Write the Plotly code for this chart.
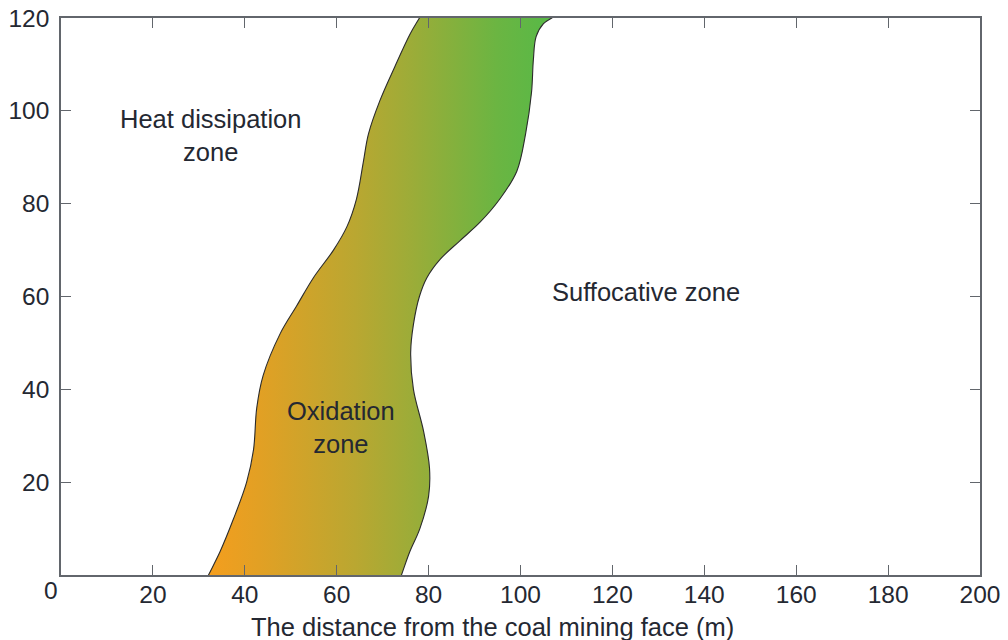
import plotly.graph_objects as go

# Boundary of the oxidation zone
left_y = [0, 5, 12, 20, 27, 36, 43, 52, 58, 64, 70, 75, 81, 89, 95, 102.2, 109.4, 116.6, 120]
left_x = [32.1, 34.6, 37.5, 40.4, 41.9, 42.6, 44.0, 47.7, 51.3, 54.9, 59.3, 62.2, 64.3, 65.8, 66.9, 69.4, 72.6, 76.0, 78.0]
right_y = [0, 5, 10, 17, 23, 31, 40, 48, 54, 60, 64, 68, 72, 76, 81, 87, 95, 104, 111, 116, 118.8, 120]
right_x = [74.1, 75.9, 78.1, 80.0, 80.2, 78.9, 76.7, 76.1, 76.7, 78.0, 79.6, 82.5, 86.8, 91.2, 95.5, 99.2, 101.1, 102.4, 102.8, 103.4, 105.0, 106.8]

x_ticks = [0, 20, 40, 60, 80, 100, 120, 140, 160, 180, 200]
y_ticks = [0, 20, 40, 60, 80, 100, 120]

zone_labels = ["Heat dissipation<br>zone", "Suffocative zone", "Oxidation<br>zone"]
zone_label_x = [32.6, 127.3, 61.0]
zone_label_y = [94.6, 60.9, 31.7]

gradient = [[0.0, "#F49E1E"], [0.147, "#E2A024"], [0.427, "#BAA731"],
            [0.587, "#9DAC38"], [0.84, "#6BB542"], [1.0, "#57B947"]]


def reflect(p_end, p_prev):
    return 2 * p_end - p_prev


# polygon: left edge upward, right edge downward, closed outside the visible range
lx_b = reflect(left_x[0], left_x[1]); ly_b = reflect(left_y[0], left_y[1])
lx_t = reflect(left_x[-1], left_x[-2]); ly_t = reflect(left_y[-1], left_y[-2])
rx_b = reflect(right_x[0], right_x[1]); ry_b = reflect(right_y[0], right_y[1])
rx_t = reflect(right_x[-1], right_x[-2]); ry_t = reflect(right_y[-1], right_y[-2])

poly_x = [lx_b] + left_x + [lx_t, rx_t] + right_x[::-1] + [rx_b]
poly_y = [ly_b] + left_y + [ly_t, ry_t] + right_y[::-1] + [ry_b]

fig = go.Figure()
fig.add_trace(go.Scatter(
    x=poly_x, y=poly_y, mode="lines", fill="toself",
    line=dict(color="#2b2b2b", width=1.1, shape="spline", smoothing=1),
    fillgradient=dict(type="horizontal", colorscale=gradient,
                      start=min(left_x), stop=max(right_x)),
    hoverinfo="skip", showlegend=False,
))

font_color = "#242832"
for t, x, y in zip(zone_labels, zone_label_x, zone_label_y):
    fig.add_annotation(x=x, y=y, text=t, showarrow=False,
                       font=dict(size=25.5, color=font_color, family="Arial"))

fig.add_annotation(xref="paper", yref="paper", x=0.469, y=-0.094,
                   text="The distance from the coal mining face (m)",
                   showarrow=False, yanchor="middle",
                   font=dict(size=25.5, color=font_color, family="Arial"))
fig.add_annotation(xref="paper", yref="paper", x=-0.021, y=-0.028,
                   text="0", showarrow=False, yanchor="middle",
                   font=dict(size=24.5, color=font_color, family="Arial"))

axis_color = "#62666c"
common = dict(showline=True, linecolor=axis_color, linewidth=1.5, mirror="ticks",
              ticks="inside", ticklen=10, tickwidth=1.4, tickcolor=axis_color,
              showgrid=False, zeroline=False, automargin=False,
              tickfont=dict(size=24.5, color=font_color, family="Arial"))

fig.update_xaxes(range=[0, 200], tickvals=x_ticks,
                 ticktext=[""] + [str(v) for v in x_ticks[1:]],
                 ticklabelstandoff=-3, **common)
fig.update_yaxes(range=[0, 120], tickvals=y_ticks,
                 ticktext=[""] + [str(v) for v in y_ticks[1:]],
                 ticklabelstandoff=5, **common)

fig.update_layout(width=1008, height=640,
                  margin=dict(l=61, r=28, t=18, b=65, autoexpand=False),
                  plot_bgcolor="white", paper_bgcolor="white",
                  font=dict(family="Arial"))

fig.write_html("out.html", config={"displayModeBar": False},
               post_script="document.body.style.margin='0';"
                           "document.body.style.overflow='hidden';")
